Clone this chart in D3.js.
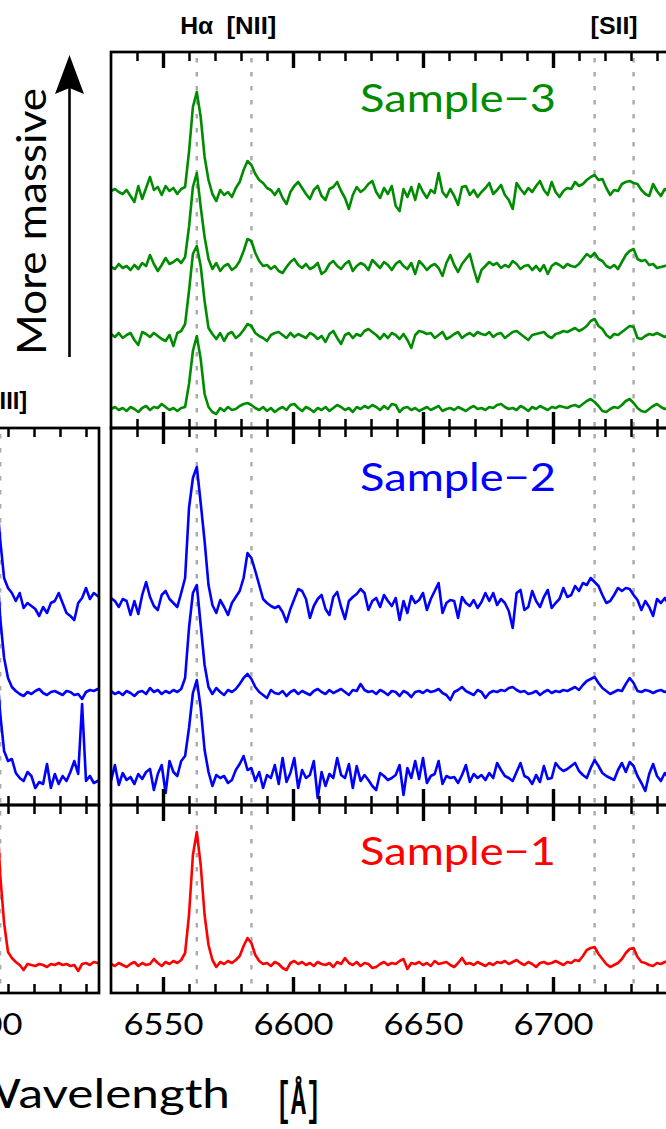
<!DOCTYPE html>
<html><head><meta charset="utf-8">
<script src="https://cdn.jsdelivr.net/npm/d3@7"></script>
<style>body{margin:0;background:#fff}svg{display:block}</style>
</head><body>
<svg id="c" width="666" height="1129"></svg>
<script>
// ---------- DATA ----------
// wavelength grids (Angstrom): start + step*i
const rightStart = 6530, rightStep = 1.5;
const leftStart = 5001, leftStep = 1.5;
// emission lines marked with dotted lines
const rightLineWaves = [6563, 6584, 6716, 6731];
const leftLineWaves = [5007];
const topLabels = [{t:"H\u03b1", w:6563}, {t:"[NII]", w:6584}, {t:"[SII]", w:6723.5}];
const leftTopLabels = [{t:"[OIII]", w:5007}];
const rightMajorTicks = [6550, 6600, 6650, 6700];
const rightMinorTicks = [6540,6560,6570,6580,6590,6610,6620,6630,6640,6660,6670,6680,6690,6710,6720,6730,6740];
const leftMajorTicks = [5000];
const leftMinorTicks = [5010, 5020, 5030, 5040];
const sampleNames = ["Sample\u22123", "Sample\u22122", "Sample\u22121"];

// relative flux (0.01 units) above each spectrum's continuum
const s3a = [0,2,-1,1,-2,2,0,-3,1,3, -1,2,1,5,2,-1,1,-2,1,2, 25,58,73,50,15,2,-3,-5,1,-2, 2,-1,0,3,5,6,4,1,-1,2, -2,1,-3,0,2,-1,4,5,1,-2, 2,0,-3,1,-1,2,-2,1,4,2, -1,1,-3,2,0,3,1,4,2,-1, 3,0,5,4,-3,1,2,-1,1,-2, 0,2,-1,1,3,-2,0,1,-1,2, 0,-2,1,3,0,1,-1,2,1,4, 5,2,0,1,-1,3,1,-2,2,0, 3,1,-1,2,1,3,2,1,3,4, 2,5,8,10,7,3,-2,-3,0,2, 1,4,8,10,6,1,-2,-3,0,3, 5,2,0,1];
const s3b = [2,-1,3,-2,1,3,-4,-9,4,2, -1,3,0,-3,-5,1,-10,3,5,12, 45,82,90,70,35,8,2,-3,3,-5, 2,4,-2,1,6,12,10,3,0,-2, -5,1,3,4,1,-2,3,-1,2,0, -2,3,1,-3,0,-6,2,5,-2,-8, 1,3,-2,2,0,5,7,4,1,-3, 2,-2,3,1,-3,2,-4,-12,1,5, 4,2,3,-2,1,4,-3,-1,2,4, -2,1,3,0,4,2,1,4,-1,2, 3,-2,1,4,5,2,-1,-4,1,2, 3,4,0,-2,2,3,5,4,6,8, 5,7,10,15,17,10,7,1,-2,2, 1,4,7,10,9,-2,-3,0,2,1, 3,1,-1,2];
const s3c = [0,-2,3,-1,1,-3,2,-2,4,1, 12,3,-4,2,9,3,5,8,4,10, 40,80,94,60,30,8,-2,4,-4,1, 3,-3,0,6,16,28,26,14,6,1, 2,-2,1,-4,-6,0,5,8,2,-1, 3,-2,0,4,-7,-4,3,6,1,-2, 3,6,-4,1,4,2,-3,7,3,-1, 5,2,-3,3,6,1,-2,4,-7,6, 2,-3,1,3,-1,-9,4,12,2,-5, 3,8,13,-2,-15,-3,1,5,2,4, -1,2,0,6,3,-2,1,2,-3,1, -4,2,-7,1,4,2,-1,3,1,0, 3,8,13,10,14,8,6,1,-1,2, -2,5,12,16,18,8,6,7,2,3, -1,0,1,2];
const s3d = [1,3,0,-2,2,-4,-10,6,-7,4, 15,2,5,-3,6,1,4,-2,3,5, 40,85,100,75,35,12,-2,-9,2,-3, 0,-5,4,10,22,31,27,18,12,9, 4,2,-3,3,-6,-12,0,6,10,4, -2,-7,2,6,-4,-8,3,5,10,1, -6,-17,-3,5,0,3,8,11,0,-6, 4,-2,6,-14,-19,3,-5,5,-8,8, 0,-6,2,-1,19,0,-5,3,-4,-13, 5,6,-3,2,-5,0,4,9,-2,2, 7,-3,-8,-17,9,3,-2,4,0,6, 11,2,-3,10,0,-5,1,4,3,10, 6,8,12,15,17,12,13,4,-3,2, 1,8,10,11,9,8,2,-2,-4,8, 1,-4,3,0];
const s2a = [-3,13,-7,5,-2,1,-6,4,-1,6, 9,-12,4,13,-15,17,6,2,17,22, 50,85,98,70,28,6,-8,3,0,2, -5,-2,8,14,22,8,10,-3,6,-10, 3,0,13,-6,20,-4,5,20,-10,8, 0,3,17,-20,6,-8,4,0,20,3, 0,14,-10,12,-3,3,-2,-8,-12,5, 2,-2,0,3,13,-17,10,0,17,-1, 20,-5,2,4,17,-6,2,0,1,-5, 3,13,-4,4,0,3,-2,5,0,15, 8,2,0,-3,6,15,2,0,-6,3, -4,12,-1,0,15,10,7,9,12,15, 7,3,0,10,18,12,5,2,0,-2, 8,15,6,16,12,2,-5,-13,4,14, 2,-3,5,0];
const s2b = [2,-1,1,-2,2,0,-3,1,2,-1, 5,1,3,-1,2,0,3,1,4,15, 65,100,108,68,28,6,-1,5,1,-2, 3,1,4,9,15,19,14,6,1,-2, -5,3,0,-1,2,-3,1,3,-1,2, 0,-2,2,4,1,-1,3,0,2,4, 1,-2,3,2,9,3,1,2,-1,3, 1,-2,2,1,-3,2,0,-4,1,2, 0,3,1,2,4,0,-2,-7,1,3, 6,2,0,-2,3,1,-5,0,2,1, 3,2,5,6,3,1,2,-1,0,2, -2,1,3,0,2,1,3,2,4,6, 3,8,12,14,16,10,5,2,-1,1, 3,2,9,15,10,2,1,3,2,0, 2,3,1,2];
const s2c = [5,2,-4,4,2,-12,2,-11,8,21, 6,-3,-7,8,12,4,0,-4,10,25, 95,125,136,100,62,18,-2,-10,3,-4, -12,0,6,12,25,50,45,32,18,4, 0,-3,-5,-3,-9,-19,-6,4,14,12, 4,-15,-3,4,8,-6,-12,6,11,-4, -16,2,6,9,14,10,-7,2,5,-4, 8,2,-3,5,-17,2,-10,7,0,3, 10,-7,4,12,20,-10,0,3,2,-15, 6,0,-3,3,-5,1,10,2,10,-2, 4,0,-8,-25,10,13,-7,-4,12,2, -4,6,13,-5,0,4,15,6,8,17, 12,20,18,25,21,17,8,0,2,8, 15,12,15,14,8,3,-7,2,-4,-13, 4,0,5,-2];
const s1a = [1,-1,2,0,-2,1,3,-1,2,0, 1,6,2,-1,3,1,4,2,5,12, 50,110,133,100,50,20,5,-2,3,1, 4,2,5,9,19,27,22,10,4,1, 2,-1,3,1,-3,-5,2,4,1,3, 0,2,-1,3,1,0,2,-2,3,1, 7,2,0,3,-1,2,1,-3,-2,1, 3,0,2,1,4,6,-4,2,1,3, 0,2,-1,4,1,2,3,0,-2,2, 7,1,2,0,3,1,-1,2,0,3, 2,4,1,3,5,2,0,3,1,-2, 2,3,1,2,4,2,0,3,2,5, 4,9,15,17,18,11,6,1,-2,0, 2,6,12,16,17,8,3,2,0,-1, 2,1,3,4];
// left ([OIII]) column
const l2a = [40,110,150,120,64,27,17,19,5,0, -3,6,2,-10,-4,-6,14,-10,4,-6, 2,-3,6,17,4,74,-3,2,-5,-3,0];
const l2b = [60,130,170,140,75,35,15,6,2,-1, -3,1,-1,2,4,0,-2,1,2,0, -2,2,1,-2,-1,-6,1,3,2,4,3];
const l2c = [40,90,130,110,63,25,15,10,2,10, -5,0,-3,-6,-13,-4,-10,0,2,10, 0,-10,-13,-17,0,5,15,4,10,7,5];
const l1a = [60,140,200,170,90,42,13,7,3,0, -5,1,0,-1,1,0,-2,1,0,2, 0,1,-1,0,-6,1,2,0,3,2,1];
// vertical offsets (flux units) of each spectrum inside its panel
const sample3Offsets = [0.19, 0.92, 1.61, 2.36];
const sample2Offsets = [0.27, 1.12, 2.02];
const sample1Offsets = [0.28];

// ---------- LAYOUT ----------
const svg = d3.select("#c");
const pxPerA = 2.6;
const xR = d3.scaleLinear().domain([6530, 6750]).range([111, 111 + 220 * pxPerA]);
const xL = d3.scaleLinear().domain([4990, 5045]).range([99 - 55 * pxPerA, 99]);
const rows = [{top: 52, bottom: 428}, {top: 428, bottom: 805}, {top: 805, bottom: 993}];
const colors = ["#008c00", "#0000ff", "#ff0000"];
const yScale = r => d3.scaleLinear().domain([0, (r.bottom - r.top) / 100]).range([r.bottom, r.top]);

const rightSpectra = [
  {row: 0, color: colors[0], series: [s3a, s3b, s3c, s3d], offs: sample3Offsets},
  {row: 1, color: colors[1], series: [s2a, s2b, s2c], offs: sample2Offsets},
  {row: 2, color: colors[2], series: [s1a], offs: sample1Offsets}
];
const leftSpectra = [
  {row: 1, color: colors[1], series: [l2a, l2b, l2c], offs: sample2Offsets},
  {row: 2, color: colors[2], series: [l1a], offs: sample1Offsets}
];

const defs = svg.append("defs");
let clipId = 0;
function panel(x, start, step, spec, lineWaves, majors, minors) {
  const r = rows[spec.row];
  const y = yScale(r);
  const [x0, x1] = x.range();
  const id = "clip" + (clipId++);
  defs.append("clipPath").attr("id", id).append("rect")
    .attr("x", x0).attr("y", r.top).attr("width", x1 - x0).attr("height", r.bottom - r.top);
  const g = svg.append("g").attr("clip-path", `url(#${id})`);
  g.selectAll("line.mark").data(lineWaves).join("line")
    .attr("x1", d => x(d)).attr("x2", d => x(d))
    .attr("y1", r.top + 6).attr("y2", r.bottom)
    .attr("stroke", "#aaaaaa").attr("stroke-width", 2.4).attr("stroke-dasharray", "4.5,9.5");
  spec.series.forEach((s, k) => {
    const line = d3.line().x((d, i) => x(start + step * i)).y(d => y(spec.offs[k] + d / 100));
    g.append("path").attr("d", line(s)).attr("fill", "none")
      .attr("stroke", spec.color).attr("stroke-width", 2.6).attr("stroke-linejoin", "round");
  });
  const mk = (axisFn, vals, len, w, ypos) => {
    const a = svg.append("g").attr("transform", `translate(0,${ypos})`)
      .call(axisFn(x).tickValues(vals).tickSize(len).tickSizeOuter(0).tickFormat(""));
    a.select(".domain").remove();
    a.selectAll("line").attr("stroke", "#000").attr("stroke-width", w);
  };
  mk(d3.axisTop, majors, -16, 3.4, r.top);
  mk(d3.axisTop, minors, -9, 2.5, r.top);
  mk(d3.axisBottom, majors, -16, 3.4, r.bottom);
  mk(d3.axisBottom, minors, -9, 2.5, r.bottom);
  svg.append("rect").attr("x", x0).attr("y", r.top).attr("width", x1 - x0).attr("height", r.bottom - r.top)
    .attr("fill", "none").attr("stroke", "#000").attr("stroke-width", 2.7);
}

rightSpectra.forEach(s => panel(xR, rightStart, rightStep, s, rightLineWaves, rightMajorTicks.concat([6750]), rightMinorTicks));
leftSpectra.forEach(s => panel(xL, leftStart, leftStep, s, leftLineWaves, leftMajorTicks, leftMinorTicks));

function tickLabels(x, vals) {
  const a = svg.append("g").attr("transform", `translate(0,${rows[2].bottom})`)
    .call(d3.axisBottom(x).tickValues(vals).tickSize(0).tickFormat(d3.format("d")));
  a.select(".domain").remove();
  a.selectAll("text").attr("y", 42).attr("dy", 0)
    .attr("font-family", "Lato, 'Open Sans', sans-serif").attr("font-size", 30).attr("fill", "#000")
    .attr("textLength", 80).attr("lengthAdjust", "spacingAndGlyphs");
}
tickLabels(xR, rightMajorTicks);
tickLabels(xL, leftMajorTicks);

const boldFont = "'Liberation Sans', Arial, sans-serif";
const topLens = {"H\u03b1": 33, "[NII]": 50, "[SII]": 47, "[OIII]": 54};
svg.selectAll("text.tl").data(topLabels).join("text")
  .attr("x", d => xR(d.w)).attr("y", 34).attr("text-anchor", "middle")
  .attr("font-family", boldFont).attr("font-weight", "bold").attr("font-size", 24)
  .attr("textLength", d => topLens[d.t]).attr("lengthAdjust", "spacingAndGlyphs").text(d => d.t);
svg.selectAll("text.tll").data(leftTopLabels).join("text")
  .attr("x", d => xL(d.w)).attr("y", 409).attr("text-anchor", "middle")
  .attr("font-family", boldFont).attr("font-weight", "bold").attr("font-size", 24)
  .attr("textLength", d => topLens[d.t]).attr("lengthAdjust", "spacingAndGlyphs").text(d => d.t);

const nameBase = [112, 491, 865];
sampleNames.forEach((n, i) => {
  svg.append("text").attr("x", 360).attr("y", nameBase[i])
    .attr("font-family", "Lato, 'Open Sans', sans-serif").attr("font-size", 38)
    .attr("fill", colors[i]).attr("textLength", 196).attr("lengthAdjust", "spacingAndGlyphs").text(n);
});

svg.append("text").attr("x", -30).attr("y", 1108)
  .attr("font-family", "Lato, 'Open Sans', sans-serif").attr("font-size", 40)
  .attr("textLength", 260).attr("lengthAdjust", "spacingAndGlyphs").text("Wavelength");
svg.append("text").attr("x", 276).attr("y", 1114)
  .attr("font-family", "'Liberation Mono', 'DejaVu Sans Mono', monospace").attr("font-weight", "bold").attr("font-size", 46)
  .attr("textLength", 45).attr("lengthAdjust", "spacingAndGlyphs").text("[\u00c5]");

svg.append("text").attr("transform", "translate(46,355) rotate(-90)")
  .attr("font-family", "Lato, 'Open Sans', sans-serif").attr("font-size", 40)
  .attr("textLength", 267).attr("lengthAdjust", "spacingAndGlyphs").text("More massive");
svg.append("line").attr("x1", 69.5).attr("x2", 69.5).attr("y1", 357).attr("y2", 88)
  .attr("stroke", "#000").attr("stroke-width", 2.6);
svg.append("path").attr("d", "M69.5,55 L55,94 L69.5,88 L84,94 Z").attr("fill", "#000");
</script>
</body></html>
